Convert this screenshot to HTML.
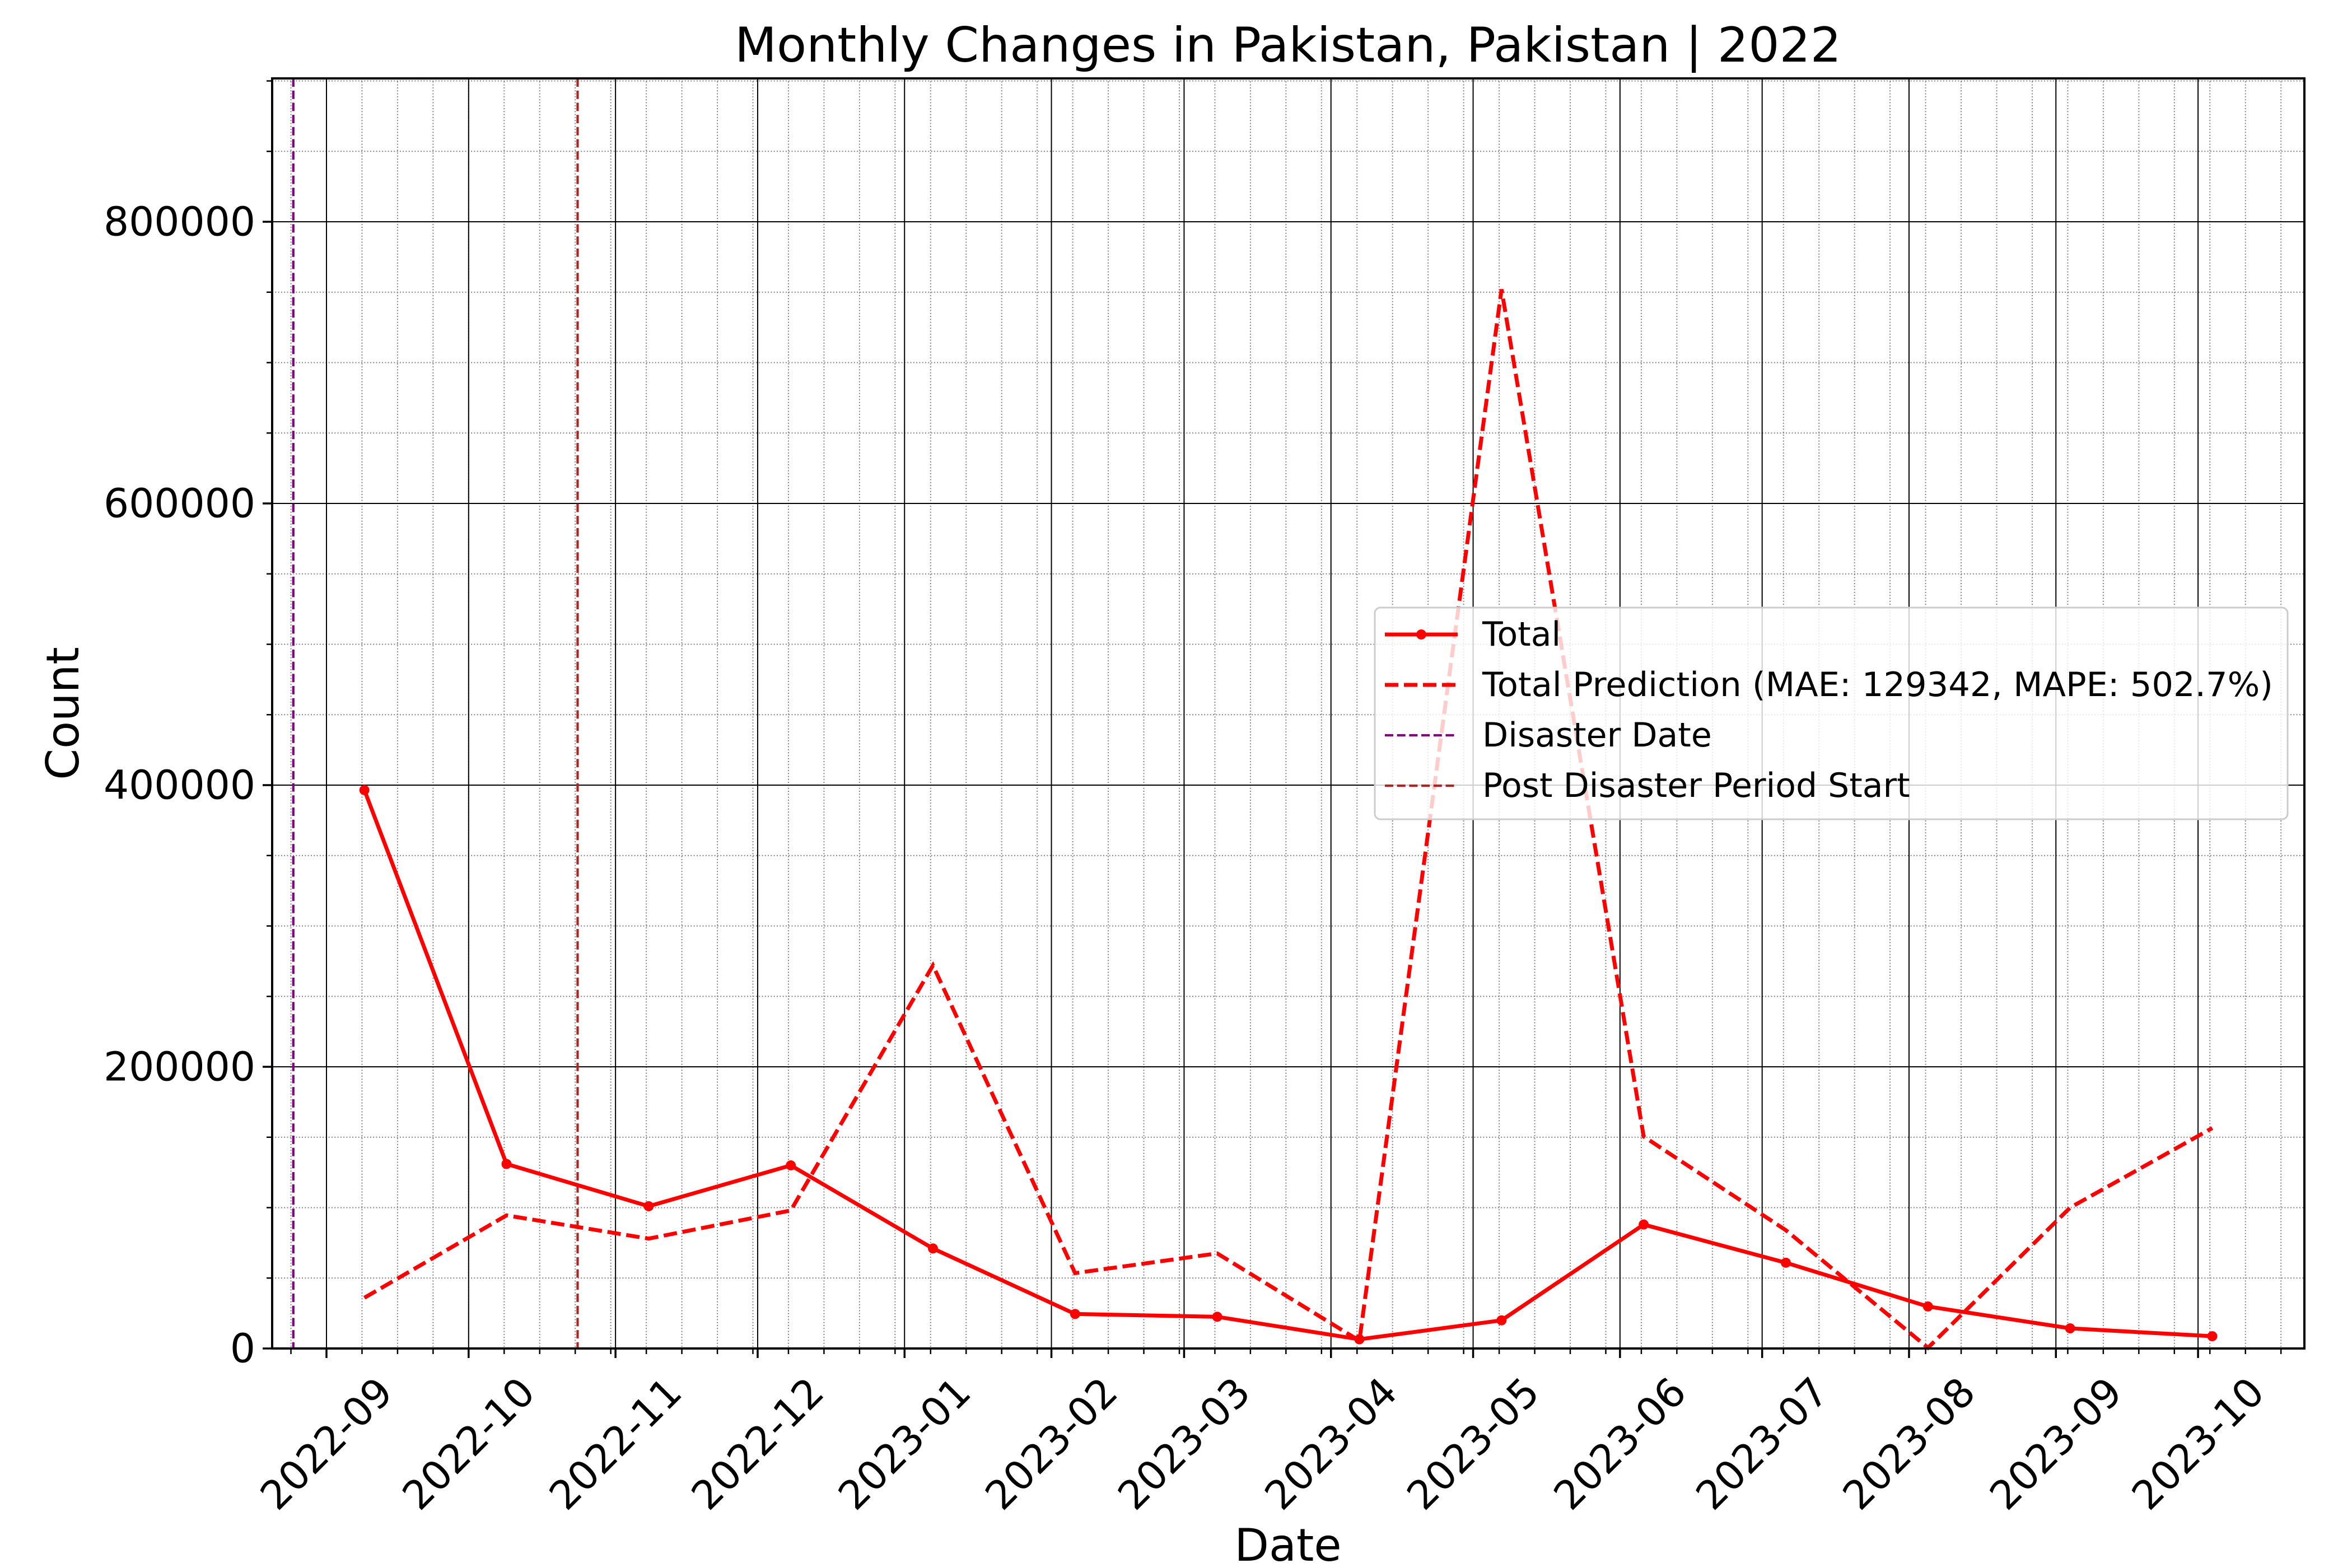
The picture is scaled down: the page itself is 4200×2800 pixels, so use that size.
<!DOCTYPE html>
<html><head><meta charset="utf-8"><style>
html,body{margin:0;padding:0;background:#fff;}
svg{display:block;font-family:"DejaVu Sans","Liberation Sans",sans-serif;}
</style></head><body>
<svg id="chart" width="4200" height="2800" viewBox="0 0 4200 2800" xmlns="http://www.w3.org/2000/svg">
<rect x="0" y="0" width="4200" height="2800" fill="#fff"/>
<g id="grid"></g>
<g id="series"></g>
<g id="axes"></g>
<text x="2300" y="110" font-size="86" text-anchor="middle" textLength="1976" lengthAdjust="spacingAndGlyphs">Monthly Changes in Pakistan, Pakistan | 2022</text>
<text x="2300" y="2787" font-size="80" text-anchor="middle">Date</text>
<text x="0" y="0" font-size="80" text-anchor="middle" transform="translate(140,1274) rotate(-90)">Count</text>
<g id="legend">
<rect x="2455" y="1085" width="1630" height="378" rx="10" fill="#fff" fill-opacity="0.8" stroke="#cccccc" stroke-width="3"/>
<g>
<line x1="2473" y1="1133" x2="2603" y2="1133" stroke="#ff0000" stroke-width="7"/>
<circle cx="2538" cy="1133" r="9" fill="#ff0000"/>
<text x="2647" y="1133" font-size="60" dominant-baseline="central">Total</text>
</g>
<g>
<line x1="2473" y1="1223" x2="2603" y2="1223" stroke="#ff0000" stroke-width="7" stroke-dasharray="24,10"/>
<text x="2647" y="1223" font-size="60" dominant-baseline="central" textLength="1412" lengthAdjust="spacingAndGlyphs">Total Prediction (MAE: 129342, MAPE: 502.7%)</text>
</g>
<g>
<line x1="2473" y1="1313" x2="2603" y2="1313" stroke="#800080" stroke-width="4.2" stroke-dasharray="15,6.7"/>
<text x="2647" y="1313" font-size="60" dominant-baseline="central">Disaster Date</text>
</g>
<g>
<line x1="2473" y1="1403" x2="2603" y2="1403" stroke="#b22222" stroke-width="4.2" stroke-dasharray="15,6.7"/>
<text x="2647" y="1403" font-size="60" dominant-baseline="central">Post Disaster Period Start</text>
</g>
</g>
</svg>
<script>
const dates = ['2022-09-09','2022-10-09','2022-11-08','2022-12-08','2023-01-07','2023-02-06','2023-03-08','2023-04-07','2023-05-07','2023-06-06','2023-07-06','2023-08-05','2023-09-04','2023-10-04'];
const totalValues = [396500,131000,101000,130000,71000,24500,22500,6500,20000,88000,60900,29800,14300,8700];
const predValues = [36000,94500,78000,98000,272000,53500,67500,5500,752000,150500,84000,500,100000,156500];
const monthTicks = ['2022-09','2022-10','2022-11','2022-12','2023-01','2023-02','2023-03','2023-04','2023-05','2023-06','2023-07','2023-08','2023-09','2023-10'];
const yTicks = [0,200000,400000,600000,800000];
const disasterDate = '2022-08-25';
const postDisasterDate = '2022-10-24';

const NS='http://www.w3.org/2000/svg';
const L=486,R=4115,T=140,B=2408;
const X0=583, PXD=8.461, YMAX=901800;
const base=Date.UTC(2022,8,1);
function days(s){const p=s.split('-').map(Number);return (Date.UTC(p[0],p[1]-1,p[2]||1)-base)/86400000;}
function xs(s){return X0+days(s)*PXD;}
function xd(d){return X0+d*PXD;}
function ys(v){return B-(v/YMAX)*(B-T);}
function mk(tag,attrs,parent){const e=document.createElementNS(NS,tag);for(const k in attrs)e.setAttribute(k,attrs[k]);parent.appendChild(e);return e;}
const grid=document.getElementById('grid'),series=document.getElementById('series'),axes=document.getElementById('axes');

for(let k=-1;k<=55;k++){const x=xd(k*7.5);if(x<L||x>R)continue;
 const g=mk('line',{x1:x,y1:T,x2:x,y2:B,stroke:'#808080','stroke-width':2,'stroke-dasharray':'2,3.3'},grid);
 
 
 const t=mk('line',{x1:x,y1:B,x2:x,y2:B+10,stroke:'#000','stroke-width':2.5},axes);
 
 
}
for(let v=50000;v<YMAX;v+=50000){const y=ys(v);
 const g=mk('line',{x1:L,y1:y,x2:R,y2:y,stroke:'#808080','stroke-width':2,'stroke-dasharray':'2,3.3'},grid);
 
 
 const t=mk('line',{x1:L-10,y1:y,x2:L,y2:y,stroke:'#000','stroke-width':2.5},axes);
 
 
}
monthTicks.forEach(m=>{const x=xs(m);
 const g=mk('line',{x1:x,y1:T,x2:x,y2:B,stroke:'#000','stroke-width':2},grid);
 
 
 const t=mk('line',{x1:x,y1:B,x2:x,y2:B+17,stroke:'#000','stroke-width':3.5},axes);
 
 
 const lb=mk('text',{x:0,y:0,'font-size':71,'text-anchor':'middle','dominant-baseline':'central',transform:'translate('+x+',2578) rotate(-45)'},axes);
 lb.textContent=m;
 
 
});
yTicks.forEach(v=>{const y=ys(v);
 const g=mk('line',{x1:L,y1:y,x2:R,y2:y,stroke:'#000','stroke-width':2},grid);
 
 
 const t=mk('line',{x1:L-17,y1:y,x2:L,y2:y,stroke:'#000','stroke-width':3.5},axes);
 
 
 const lb=mk('text',{x:L-30,y:y,'font-size':71,'text-anchor':'end','dominant-baseline':'central'},axes);
 lb.textContent=String(v);
 
 
});
const dl=mk('line',{x1:xs(disasterDate),y1:T,x2:xs(disasterDate),y2:B,stroke:'#800080','stroke-width':4.2,'stroke-dasharray':'15,6.7'},series);


const pl=mk('line',{x1:xs(postDisasterDate),y1:T,x2:xs(postDisasterDate),y2:B,stroke:'#b22222','stroke-width':4.2,'stroke-dasharray':'15,6.7'},series);


const pp=mk('polyline',{points:dates.map((d,i)=>xs(d)+','+ys(predValues[i])).join(' '),fill:'none',stroke:'#ff0000','stroke-width':7,'stroke-dasharray':'24,10'},series);


const tp=mk('polyline',{points:dates.map((d,i)=>xs(d)+','+ys(totalValues[i])).join(' '),fill:'none',stroke:'#ff0000','stroke-width':7,'stroke-linejoin':'round'},series);


dates.forEach((d,i)=>{const c=mk('circle',{cx:xs(d),cy:ys(totalValues[i]),r:9,fill:'#ff0000'},series);
 
 
});
const sp=mk('rect',{x:L,y:T,width:R-L,height:B-T,fill:'none',stroke:'#000','stroke-width':4},axes);


</script>
</body></html>
